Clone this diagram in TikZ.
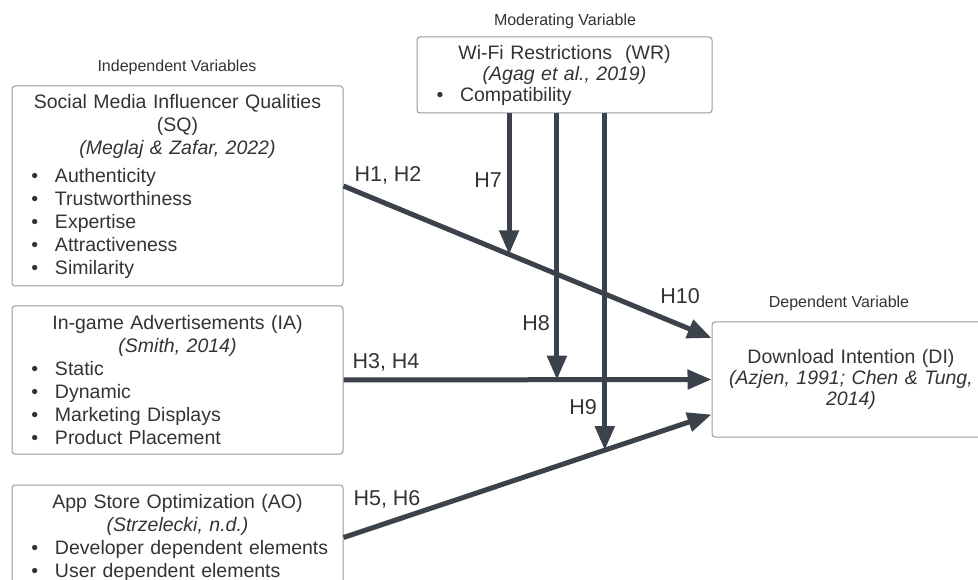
\documentclass[tikz,border=0pt]{standalone}
\usepackage{fontspec}
\setmainfont{Liberation Sans}
\usetikzlibrary{arrows.meta}

\definecolor{linegray}{HTML}{3C424B}
\definecolor{boxgray}{HTML}{9A9A9A}
\definecolor{textgray}{HTML}{333333}

% bullet line inside a box
\newcommand{\bitem}[1]{\par\noindent\hspace*{19.5pt}\makebox[23.5pt][l]{\textbullet}#1}

\tikzset{
  varbox/.style={draw=boxgray, line width=1pt, rounded corners=3pt, inner sep=0pt,
    text width=#1, align=left, text=textgray, font=\fontsize{19.5}{23}\selectfont},
  grouplabel/.style={text=textgray, font=\fontsize{16}{19}\selectfont},
  hlabel/.style={text=textgray, font=\fontsize{21.5}{25}\selectfont},
  hyp/.style={draw=linegray, line width=5pt, -{Triangle[length=24pt,width=19pt]}}
}

\begin{document}
\begin{tikzpicture}[x=1pt, y=-1pt]
    \useasboundingbox (0,0) rectangle (978,580);
    \clip (0,0) rectangle (978,580);

    % Group labels
    \node[grouplabel] (indep) at (177,67) {Independent Variables};
    \node[grouplabel] (moder) at (565,21) {Moderating Variable};
    \node[grouplabel] (depen) at (839,303) {Dependent Variable};

    % Variable boxes
    \node[varbox=331pt, minimum height=200pt] (sq) at (177.5,186) {%
        {\centering Social Media Influencer Qualities\\ (SQ)\\ \textit{(Meglaj \& Zafar, 2022)}\par}\vspace{5pt}
        \bitem{Authenticity}
        \bitem{Trustworthiness}
        \bitem{Expertise}
        \bitem{Attractiveness}
        \bitem{Similarity}};
    \node[varbox=331pt, minimum height=148pt] (ia) at (177.5,380) {%
        {\centering In-game Advertisements (IA)\\ \textit{(Smith, 2014)}\par}
        \bitem{Static}
        \bitem{Dynamic}
        \bitem{Marketing Displays}
        \bitem{Product Placement}};
    \node[varbox=331pt, minimum height=105pt] (ao) at (177.5,537.5) {%
        {\centering App Store Optimization (AO)\\ \textit{(Strzelecki, n.d.)}\par}
        \bitem{Developer dependent elements}
        \bitem{User dependent elements}};
    \node[varbox=295pt, minimum height=76pt, font=\fontsize{19.5}{21}\selectfont] (wr) at (564.5,75) {%
        {\centering Wi-Fi Restrictions\ \ (WR)\\ \textit{(Agag et al., 2019)}\par}
        \bitem{Compatibility}};
    \node[varbox=278pt, minimum height=115pt, align=center, font=\fontsize{19.5}{21}\selectfont] (di) at (851,379.5) {%
        Download Intention (DI)\\ \textit{(Azjen, 1991; Chen \& Tung,}\\ \textit{2014)}};

    % Arrow ends on the dependent variable
    \coordinate (t1) at ([yshift=41.5pt]di.west);
    \coordinate (t3) at (di.west);
    \coordinate (t5) at ([yshift=-35pt]di.west);

    % Points where the moderating arrows meet
    \path (sq.east) -- (t1) coordinate[pos=0.45] (m7);
    \path (ia.east) -- (t3) coordinate[pos=0.58] (m8);
    \path (ao.east) -- (t5) coordinate[pos=0.71] (m9);

    % Hypotheses
    \draw[hyp] (sq.east) -- (t1);
    \draw[hyp] (ia.east) -- (t3);
    \draw[hyp] (ao.east) -- (t5);
    \draw[hyp] (m7 |- wr.south) -- (m7);
    \draw[hyp] (m8 |- wr.south) -- (m8);
    \draw[hyp] (m9 |- wr.south) -- (m9);

    % Hypothesis labels
    \node[hlabel] (h12) at (388,175) {H1, H2};
    \node[hlabel] (h34) at (386,362) {H3, H4};
    \node[hlabel] (h56) at (387,499) {H5, H6};
    \node[hlabel] (h7) at (488,180) {H7};
    \node[hlabel] (h8) at (536,323) {H8};
    \node[hlabel] (h9) at (583,407) {H9};
    \node[hlabel] (h10) at (680,296) {H10};
\end{tikzpicture}
\end{document}
